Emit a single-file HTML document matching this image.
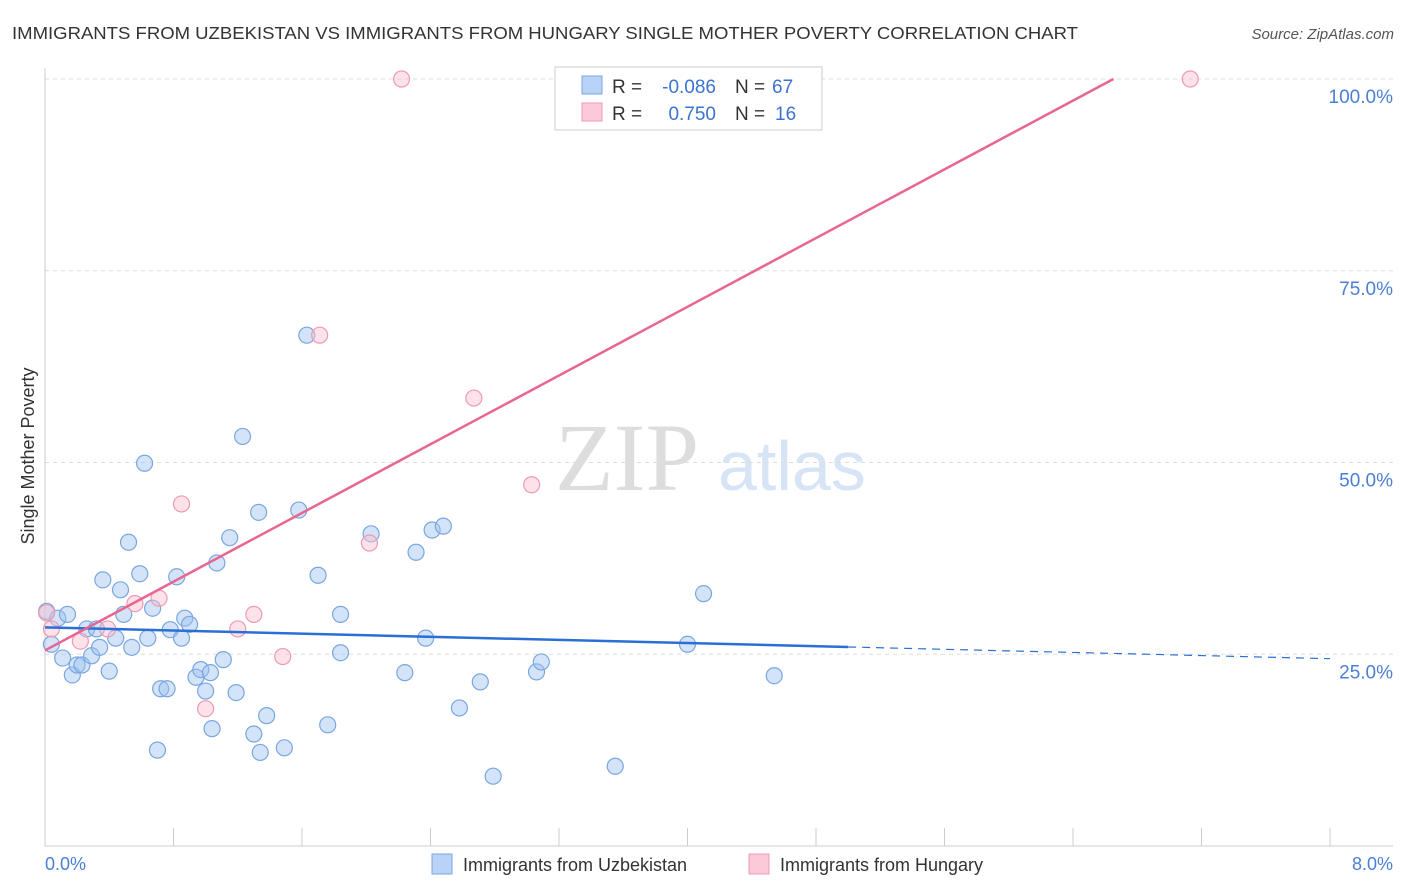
<!DOCTYPE html>
<html><head><meta charset="utf-8"><style>
body{margin:0;background:#fff;font-family:"Liberation Sans",sans-serif;}
#wrap{position:relative;width:1406px;height:892px;overflow:hidden}
</style></head><body>
<div id="wrap">
<svg id="svg" width="1406" height="892" xmlns="http://www.w3.org/2000/svg">
<text x="12" y="39" font-size="17.5" fill="#333" textLength="1066" lengthAdjust="spacingAndGlyphs">IMMIGRANTS FROM UZBEKISTAN VS IMMIGRANTS FROM HUNGARY SINGLE MOTHER POVERTY CORRELATION CHART</text>
<text x="1394" y="39" font-size="15" fill="#555" font-style="italic" text-anchor="end">Source: ZipAtlas.com</text>
<text x="555" y="490" font-size="96" fill="#ddd" font-family="Liberation Serif,serif">ZIP</text>
<text x="718" y="490" font-size="70" fill="#d6e4f5">atlas</text>
<text transform="translate(34,456) rotate(-90)" font-size="18" fill="#333" text-anchor="middle">Single Mother Poverty</text>
<g id="grid"></g><g id="marks"></g>
<text x="45" y="870" font-size="18" fill="#4a7fd4">0.0%</text>
<text x="1393" y="870" font-size="18" fill="#4a7fd4" text-anchor="end">8.0%</text>
<g>
<rect x="555" y="67" width="267" height="63" fill="#fff" stroke="#ccc"/>
<rect x="582" y="76" width="20" height="18" fill="#b8d3f5" stroke="#7aa6e0"/>
<rect x="582" y="103" width="20" height="18" fill="#fcc9d8" stroke="#ee9ab4"/>
<text x="612" y="93" font-size="19" fill="#333">R =</text>
<text x="716" y="93" font-size="19" fill="#3a74d0" text-anchor="end">-0.086</text>
<text x="735" y="93" font-size="19" fill="#333">N =</text>
<text x="772" y="93" font-size="19" fill="#3a74d0">67</text>
<text x="612" y="120" font-size="19" fill="#333">R =</text>
<text x="716" y="120" font-size="19" fill="#3a74d0" text-anchor="end">0.750</text>
<text x="735" y="120" font-size="19" fill="#333">N =</text>
<text x="775" y="120" font-size="19" fill="#3a74d0">16</text>
</g>
<g>
<rect x="432" y="854" width="20" height="20" fill="#b8d3f5" stroke="#7aa6e0"/>
<text x="463" y="871" font-size="18" fill="#333">Immigrants from Uzbekistan</text>
<rect x="749" y="854" width="20" height="20" fill="#fcc9d8" stroke="#ee9ab4"/>
<text x="780" y="871" font-size="18" fill="#333">Immigrants from Hungary</text>
</g>
</svg></div>
<script>
const yTicks=[25,50,75,100];
const xTicks=[0,0.8,1.6,2.4,3.2,4,4.8,5.6,6.4,7.2,8];
const blueX=[0.01,0.04,0.08,0.11,0.14,0.17,0.2,0.23,0.26,0.29,0.32,0.34,0.36,0.4,0.44,0.47,0.49,0.52,0.54,0.59,0.62,0.64,0.67,0.7,0.72,0.76,0.78,0.82,0.85,0.87,0.9,0.94,0.97,1.0,1.03,1.04,1.07,1.11,1.15,1.19,1.23,1.3,1.33,1.34,1.38,1.49,1.58,1.63,1.7,1.76,1.84,1.84,2.03,2.24,2.31,2.37,2.41,2.48,2.58,2.71,2.79,3.06,3.09,3.55,4.0,4.1,4.54];
const blueY=[30.6,26.3,29.7,24.5,30.2,22.3,23.6,23.6,28.3,24.8,28.3,25.9,34.7,22.8,27.1,33.4,30.2,39.6,25.9,35.5,49.9,27.1,31,12.5,20.5,20.5,28.2,35.1,27.1,29.7,28.9,22,23,20.2,22.6,15.3,36.9,24.3,40.2,20,53.4,14.6,43.5,12.2,17,12.8,43.8,66.6,35.3,15.8,25.2,30.2,40.7,22.6,38.3,27.1,41.2,41.7,18,21.4,9.1,22.7,24,10.4,26.3,32.9,22.2];
const pinkX=[0.01,0.04,0.22,0.39,0.56,0.71,0.85,1.0,1.2,1.3,1.48,1.71,2.02,2.22,2.67,3.03,7.13];
const pinkY=[30.4,28.3,26.7,28.3,31.6,32.3,44.6,17.9,28.3,30.2,24.7,66.6,39.5,100,58.4,47.1,100];
const blueFit=[28.5,-0.51];
const pinkFit=[25.5,11.2];
const X=v=>45+v/8*1285, Y=v=>846-v/100*767;
const ns="http://www.w3.org/2000/svg";
function mk(t,a,p){const e=document.createElementNS(ns,t);for(const k in a)e.setAttribute(k,a[k]);p.appendChild(e);return e;}
const g=document.getElementById('grid'),m=document.getElementById('marks');
yTicks.forEach(t=>{
 const l=mk('line',{x1:45,x2:1393,y1:Y(t),y2:Y(t),stroke:'#ddd','stroke-dasharray':'4,4'},g);
 
 
 const tx=mk('text',{x:1393,y:Y(t)+24,'font-size':19,fill:'#4a7fd4','text-anchor':'end'},g);tx.textContent=t.toFixed(1)+'%';
 
 
});
mk('line',{x1:45,x2:45,y1:68,y2:846,stroke:'#ccc'},g);
mk('line',{x1:45,x2:1393,y1:846,y2:846,stroke:'#ccc'},g);
xTicks.forEach(t=>{const l=mk('line',{x1:X(t),x2:X(t),y1:828,y2:846,stroke:'#ccc'},g);
 
 });
blueX.forEach((x,i)=>{const c=mk('circle',{cx:X(x),cy:Y(blueY[i]),r:8,fill:'rgba(160,196,240,0.45)',stroke:'#7aa6e0','stroke-width':1.2},m);
 
 });
pinkX.forEach((x,i)=>{const c=mk('circle',{cx:X(x),cy:Y(pinkY[i]),r:8,fill:'rgba(250,190,208,0.45)',stroke:'#ee9ab4','stroke-width':1.2},m);
 
 });
const bf=x=>blueFit[0]+blueFit[1]*x;
let l1=mk('line',{x1:X(0),y1:Y(bf(0)),x2:X(5),y2:Y(bf(5)),stroke:'#2a6fd6','stroke-width':2.5},m);


let l2=mk('line',{x1:X(5),y1:Y(bf(5)),x2:X(8),y2:Y(bf(8)),stroke:'#2a6fd6','stroke-width':1.2,'stroke-dasharray':'8,6'},m);


const pf=x=>pinkFit[0]+pinkFit[1]*x;const xe=(100-pinkFit[0])/pinkFit[1];
let l3=mk('line',{x1:X(0),y1:Y(pf(0)),x2:X(xe),y2:Y(100),stroke:'#e8668f','stroke-width':2.5},m);


</script>
</body></html>
